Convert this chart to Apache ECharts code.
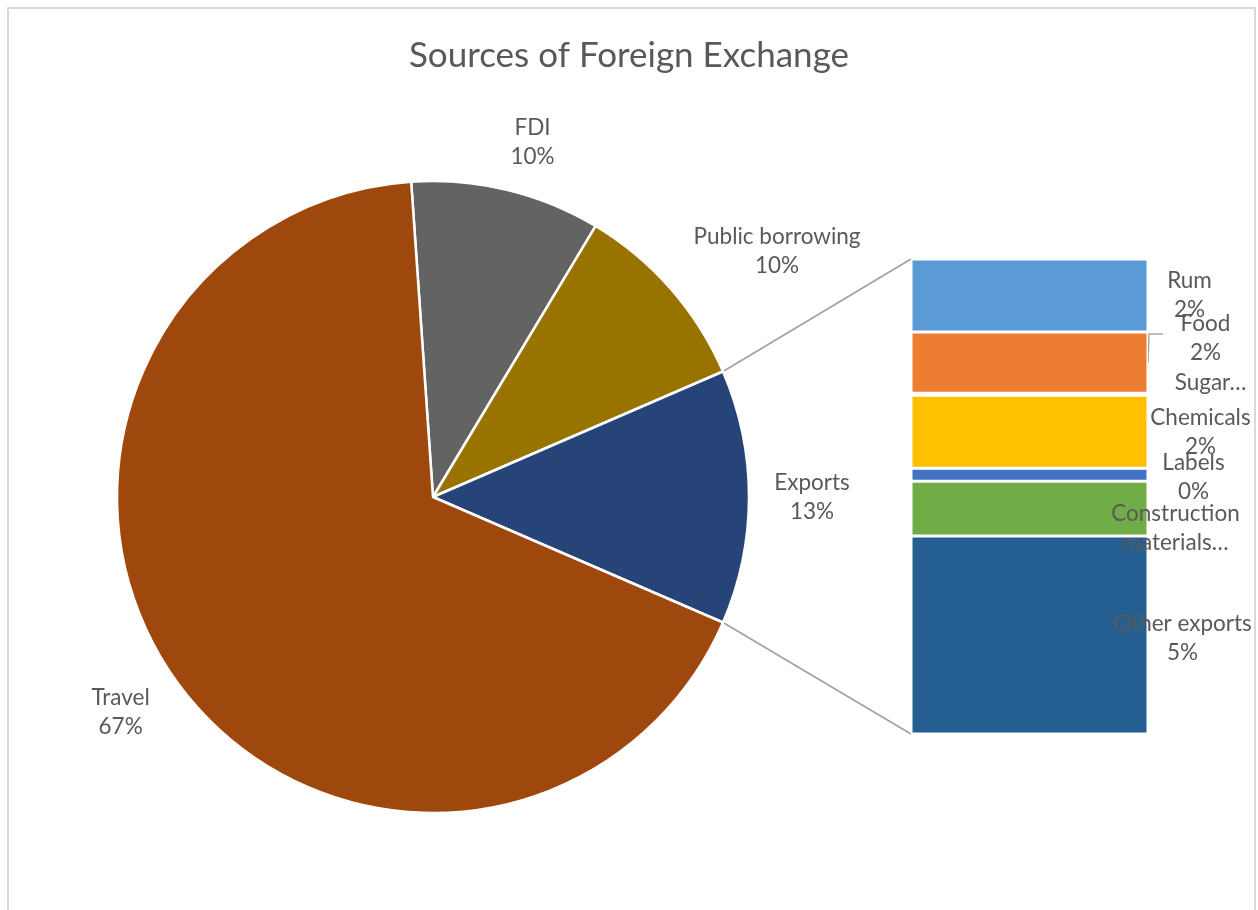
<!DOCTYPE html>
<html>
<head>
<meta charset="utf-8">
<script src="https://cdn.jsdelivr.net/npm/echarts@6/dist/echarts.min.js"></script>
<style>html,body{margin:0;padding:0;background:#fff}#chart{width:1258px;height:910px}</style>
</head>
<body>
<div id="chart"></div>
<script>
// ---- data ----
const titleText = 'Sources of Foreign Exchange';
const pieCategories = ['FDI', 'Public borrowing', 'Exports', 'Travel'];
const pieValues = [9.7, 9.9, 13.0, 67.4];
const subCategories = ['Rum', 'Food', 'Sugar', 'Chemicals', 'Labels', 'Construction materials', 'Other exports'];
const subValues = [2.0, 1.68, 0.05, 2.0, 0.36, 1.5, 5.42];
const subLabelTexts = ['Rum\n2%', 'Food\n2%', 'Sugar…', 'Chemicals\n2%', 'Labels\n0%', 'Construction\nmaterials…', 'Other exports\n5%'];

// ---- layout / style ----
const FONT = 'Lato, "Noto Sans", sans-serif';
const TEXT = '#595959';
const pieColors = ['#636363', '#997300', '#264478', '#9E480E'];
const subColors = ['#5B9BD5', '#ED7D31', '#A5A5A5', '#FFC000', '#4472C4', '#70AD47', '#255E91'];
const PIE_CX = 433, PIE_CY = 497, PIE_R = 316;
const GRID = {left: 911, top: 259, width: 237, height: 475};
const pieLabelGap = 63;
const pieLabelNudge = [[11, 14], [59, 4], [0, 0], [-3, -4]];
const subLabelOffsets = [[160, 0], [176, -24], [181, -12], [171, 1], [164, 2], [146, 20], [153, 3]];

const total = pieValues.reduce((a, b) => a + b, 0);
const expIdx = pieCategories.indexOf('Exports');
const before = pieValues.slice(0, expIdx).reduce((a, b) => a + b, 0);
const startAngle = (before + pieValues[expIdx] / 2) / total * 360;

// mid angle of each slice (clockwise from startAngle)
const midAngles = [];
{
  let acc = 0;
  pieValues.forEach(v => {
    midAngles.push(startAngle - (acc + v / 2) / total * 360);
    acc += v;
  });
}

const subTotal = subValues.reduce((a, b) => a + b, 0);

const chart = echarts.init(document.getElementById('chart'), null, {renderer: 'canvas'});

const barSeries = subCategories.map((name, i) => ({
  type: 'bar',
  name: name,
  stack: 'exp',
  barWidth: '100%',
  data: [subValues[i]],
  itemStyle: {color: subColors[i], borderColor: '#fff', borderWidth: 1.5},
  label: {
    show: true,
    position: 'inside',
    offset: subLabelOffsets[i],
    formatter: () => subLabelTexts[i],
    color: TEXT,
    fontFamily: FONT,
    fontSize: 22.5,
    lineHeight: 29,
    align: 'center',
    verticalAlign: 'middle'
  },
  emphasis: {disabled: true},
  silent: true
}));

const option = {
  animation: false,
  backgroundColor: '#fff',
  title: {
    text: titleText,
    left: 'center',
    top: 33,
    textStyle: {fontFamily: FONT, fontSize: 35, fontWeight: 'normal', color: TEXT}
  },
  grid: {left: GRID.left, top: GRID.top, width: GRID.width, height: GRID.height},
  xAxis: {type: 'category', data: ['Exports'], show: false},
  yAxis: {type: 'value', min: 0, max: subTotal, inverse: true, show: false},
  series: [
    {
      type: 'pie',
      center: [PIE_CX, PIE_CY],
      radius: PIE_R,
      startAngle: startAngle,
      clockwise: true,
      data: pieCategories.map((n, i) => ({name: n, value: pieValues[i], itemStyle: {color: pieColors[i]}})),
      itemStyle: {borderColor: '#fff', borderWidth: 2.5},
      label: {
        show: true,
        position: 'outside',
        formatter: p => p.name + '\n' + Math.round(p.value / total * 100) + '%',
        color: TEXT,
        fontFamily: FONT,
        fontSize: 22.5,
        lineHeight: 29,
        align: 'center'
      },
      labelLine: {show: false},
      labelLayout: function (params) {
        const i = params.dataIndex;
        const a = midAngles[i] * Math.PI / 180;
        const r = PIE_R + pieLabelGap;
        return {
          x: PIE_CX + r * Math.cos(a) + pieLabelNudge[i][0],
          y: PIE_CY - r * Math.sin(a) + pieLabelNudge[i][1],
          align: 'center',
          verticalAlign: 'middle'
        };
      },
      emphasis: {disabled: true},
      silent: true
    }
  ].concat(barSeries)
};

chart.setOption(option);

// connector lines from exports slice edges to the bar
const halfExp = pieValues[expIdx] / total * 180 * Math.PI / 180;
const pTop = [PIE_CX + PIE_R * Math.cos(halfExp), PIE_CY - PIE_R * Math.sin(halfExp)];
const pBot = [PIE_CX + PIE_R * Math.cos(-halfExp), PIE_CY - PIE_R * Math.sin(-halfExp)];
const barTop = chart.convertToPixel({gridIndex: 0}, [0, 0]);
const barBot = chart.convertToPixel({gridIndex: 0}, [0, subTotal]);
const barLeft = GRID.left;
// Food leader line
const foodIdx = subCategories.indexOf('Food');
const foodStart = subValues.slice(0, foodIdx).reduce((a, b) => a + b, 0);
const foodMid = chart.convertToPixel({gridIndex: 0}, [0, foodStart + subValues[foodIdx] / 2]);
const foodTop = chart.convertToPixel({gridIndex: 0}, [0, foodStart]);
const barRight = GRID.left + GRID.width;

chart.setOption({
  graphic: [
    {type: 'rect', shape: {x: 8, y: 8, width: 1247, height: 930}, style: {fill: 'none', stroke: '#D9D9D9', lineWidth: 2}, silent: true},
    {type: 'line', shape: {x1: pTop[0], y1: pTop[1], x2: barLeft, y2: barTop[1]}, style: {stroke: '#A5A5A5', lineWidth: 2}, silent: true},
    {type: 'line', shape: {x1: pBot[0], y1: pBot[1], x2: barLeft, y2: barBot[1]}, style: {stroke: '#A5A5A5', lineWidth: 2}, silent: true},
    {type: 'polyline', shape: {points: [[barRight, foodMid[1]], [barRight + 1, foodTop[1] + 2], [barRight + 15, foodTop[1] + 2]]}, style: {stroke: '#A5A5A5', lineWidth: 1.5, fill: 'none'}, silent: true}
  ]
});
</script>
</body>
</html>
